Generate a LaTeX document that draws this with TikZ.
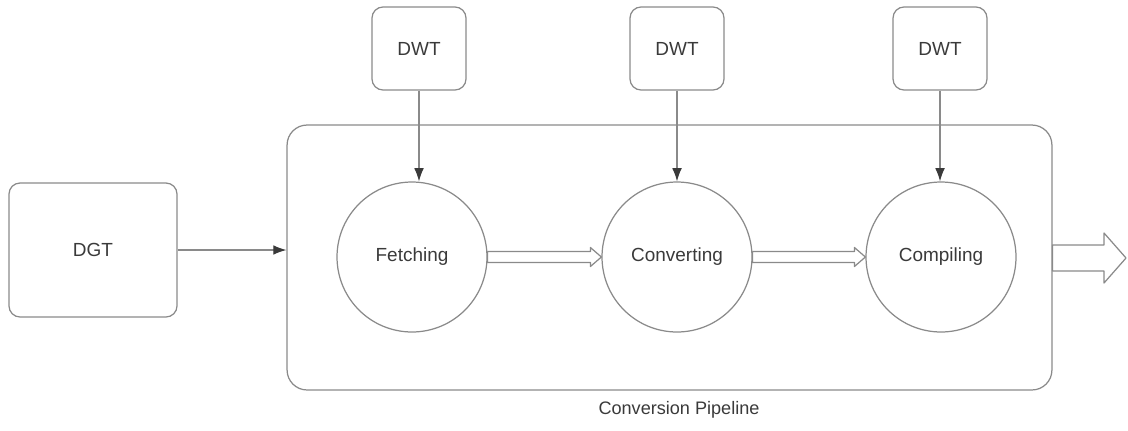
\documentclass[tikz,border=0pt]{standalone}
\usepackage{fontspec}
\setmainfont{Liberation Sans}
\usetikzlibrary{arrows.meta,calc}
\definecolor{ln}{HTML}{8A8A8A}
\definecolor{tx}{HTML}{3A3A3A}
\begin{document}
\begin{tikzpicture}[x=0.02cm,y=-0.02cm,
  every node/.style={text=tx,font=\fontsize{10.8}{13}\selectfont},
  rbox/.style={draw=ln,line width=0.7pt,rounded corners=0.22cm,inner sep=0pt},
  stage/.style={draw=ln,line width=0.7pt,circle,minimum size=3.0cm,inner sep=0pt},
  conn/.style={draw=ln,line width=0.7pt,-{Latex[length=7.5pt,width=5.5pt,fill=tx,color=tx]}},
  hollow/.style={draw=ln,line width=0.7pt,fill=white,line join=round}]
\useasboundingbox (0,0) rectangle (1128,430);
\node[rbox,minimum width=15.3cm,minimum height=5.3cm,rounded corners=0.4cm] (pipe) at (669.5,257.5) {};
\node[rbox,minimum width=3.36cm,minimum height=2.68cm] (dgt) at (93,250) {DGT};
\node[rbox,minimum width=1.88cm,minimum height=1.66cm] (dwt1) at (419,48.5) {DWT};
\node[rbox,minimum width=1.88cm,minimum height=1.66cm] (dwt2) at (677,48.5) {DWT};
\node[rbox,minimum width=1.88cm,minimum height=1.66cm] (dwt3) at (940,48.5) {DWT};
\node[stage] (fetch) at (412,257) {Fetching};
\node[stage] (conv) at (677,257) {Converting};
\node[stage] (comp) at (941,257) {Compiling};
\node[font=\fontsize{10.3}{12}\selectfont] (label) at (679,410) {Conversion Pipeline};
\draw[conn] (dgt.east) -- (dgt.east -| pipe.west);
\draw[conn] (dwt1.south) -- (dwt1.south |- fetch.north);
\draw[conn] (dwt2.south) -- (conv.north);
\draw[conn] (dwt3.south) -- (dwt3.south |- comp.north);
% hollow arrows
\draw[hollow] ($(fetch.east)+(0,-5.5)$) -- ($(conv.west)+(-11,-5.5)$) -- ($(conv.west)+(-11,-9.5)$) -- (conv.west) -- ($(conv.west)+(-11,9.5)$) -- ($(conv.west)+(-11,5.5)$) -- ($(fetch.east)+(0,5.5)$) -- cycle;
\draw[hollow] ($(conv.east)+(0,-5.5)$) -- ($(comp.west)+(-11,-5.5)$) -- ($(comp.west)+(-11,-9.5)$) -- (comp.west) -- ($(comp.west)+(-11,9.5)$) -- ($(comp.west)+(-11,5.5)$) -- ($(conv.east)+(0,5.5)$) -- cycle;
\coordinate (out) at (1126,258);
\draw[hollow] ($(pipe.east |- out)+(0,-13)$) -- ($(out)+(-22,-13)$) -- ($(out)+(-22,-25)$) -- (out) -- ($(out)+(-22,25)$) -- ($(out)+(-22,13)$) -- ($(pipe.east |- out)+(0,13)$) -- cycle;
\end{tikzpicture}
\end{document}
